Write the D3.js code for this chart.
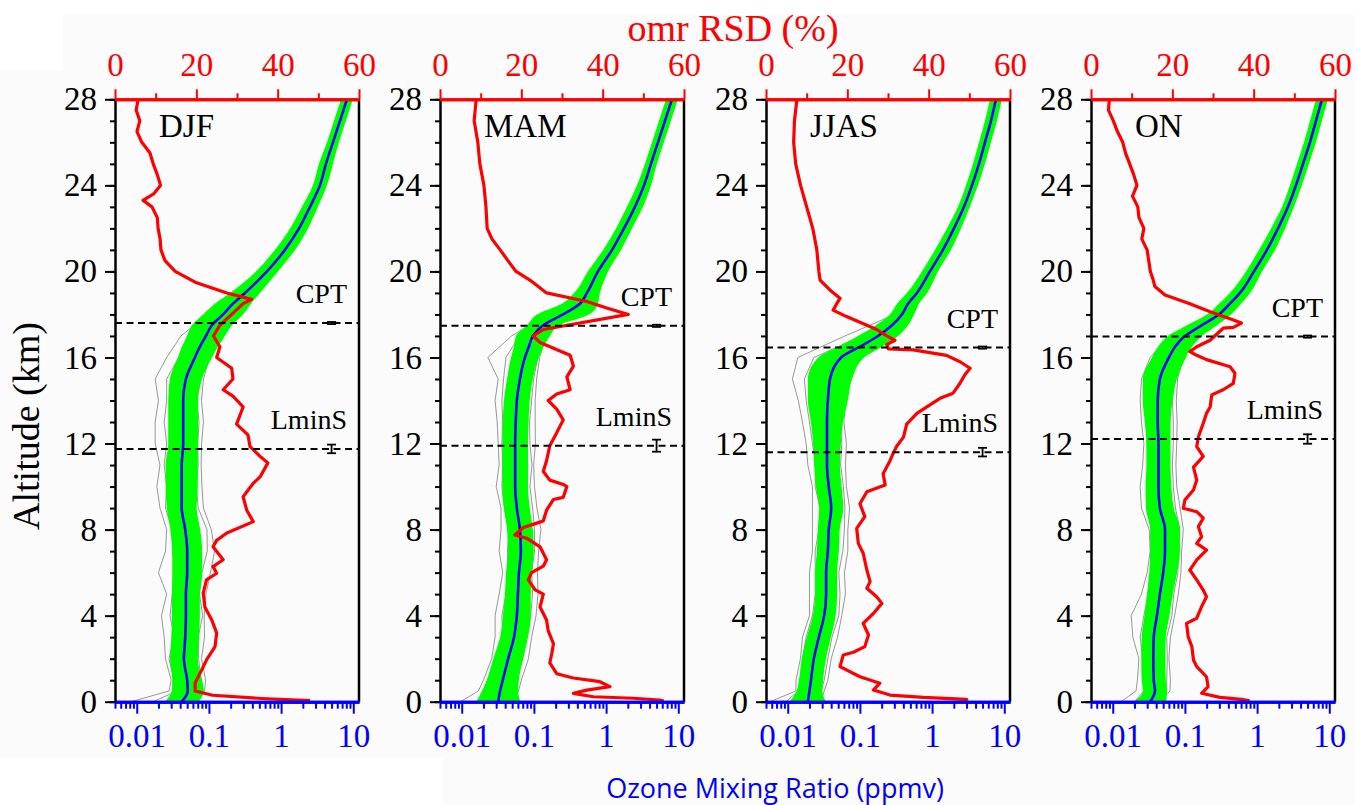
<!DOCTYPE html>
<html>
<head>
<meta charset="utf-8">
<script src="https://cdn.jsdelivr.net/npm/d3@7"></script>
<style>
	body { margin: 0; background: #fff; }
</style>
</head>
<body>
<div class="chart"></div>
<script>
// ---- data ----
var seasons = ['DJF', 'MAM', 'JJAS', 'ON'];

var altTicks = [0, 4, 8, 12, 16, 20, 24, 28];
var rsdTicks = [0, 20, 40, 60];
var ozoneTicks = [0.01, 0.1, 1, 10];

// altitude grid (km) for mean profile and green band
var altGrid = [0,0.5,1,2,3,4,5,6,7,8,9,10,11,12,13,14,15,16,16.5,17,17.5,18,18.5,19,20,21,22,23,24,25,26,27,28];

// mean ozone (ppmv)
var meanDJF = [0.042,0.051,0.050,0.045,0.047,0.048,0.048,0.050,0.050,0.047,0.042,0.042,0.042,0.044,0.044,0.044,0.048,0.064,0.075,0.091,0.110,0.157,0.215,0.316,0.637,1.13,1.77,2.51,3.45,4.18,5.23,6.54,8.17];
var meanMAM = [0.032,0.034,0.037,0.044,0.053,0.058,0.060,0.062,0.066,0.064,0.058,0.055,0.055,0.055,0.056,0.058,0.064,0.075,0.085,0.097,0.134,0.253,0.434,0.543,0.772,1.21,1.77,2.51,3.35,4.18,5.23,6.54,8.17];
var meanJJAS = [0.019,0.020,0.021,0.023,0.027,0.032,0.034,0.034,0.036,0.037,0.040,0.037,0.035,0.035,0.035,0.036,0.0385,0.055,0.100,0.178,0.278,0.382,0.463,0.617,0.934,1.41,2.01,2.76,3.57,4.46,5.40,6.54,7.66];
var meanON = [0.033,0.0385,0.037,0.0365,0.037,0.041,0.045,0.050,0.053,0.053,0.045,0.043,0.043,0.043,0.042,0.042,0.045,0.060,0.073,0.100,0.172,0.296,0.421,0.579,0.905,1.37,1.95,2.68,3.45,4.32,5.40,6.54,7.92];

// spread of the green band (multiplicative, band = mean / f .. mean * f)
var bandDJF = [1.72,1.67,1.61,1.56,1.56,1.56,1.56,1.61,1.61,1.61,1.61,1.67,1.67,1.61,1.61,1.61,1.67,1.72,1.78,1.83,1.89,1.89,1.78,1.61,1.42,1.38,1.33,1.29,1.25,1.25,1.21,1.21,1.21];
var bandMAM = [2.02,1.78,1.67,1.61,1.56,1.56,1.51,1.51,1.51,1.51,1.51,1.51,1.51,1.51,1.51,1.51,1.51,1.56,1.61,1.72,1.67,2.29,1.78,1.51,1.38,1.33,1.29,1.29,1.25,1.21,1.21,1.21,1.21];
var bandJJAS = [1.78,1.51,1.47,1.47,1.47,1.44,1.42,1.42,1.42,1.42,1.47,1.51,1.51,1.56,1.67,1.89,2.02,2.08,2.02,1.89,1.67,1.47,1.42,1.38,1.29,1.29,1.25,1.21,1.21,1.21,1.21,1.21,1.21];
var bandON = [1.67,1.47,1.47,1.47,1.47,1.49,1.51,1.56,1.61,1.61,1.56,1.51,1.47,1.47,1.51,1.61,1.72,1.72,1.72,1.72,1.61,1.47,1.42,1.38,1.29,1.29,1.25,1.21,1.21,1.21,1.21,1.21,1.21];

// a few individual profiles (grey)
var grayAlt = [0,0.5,1,2,3,4,5,6,7,8,9,10,11,12,13,14,15,16,17,18,19,20,22,24,26,28];
var grayDJF = [
	[0.0084,0.028,0.030,0.025,0.024,0.022,0.026,0.020,0.025,0.026,0.021,0.019,0.021,0.018,0.018,0.020,0.018,0.026,0.041,0.094,0.237,0.54,1.59,3.1,4.8,7.5],
	[0.017,0.036,0.033,0.028,0.033,0.029,0.031,0.035,0.031,0.031,0.025,0.026,0.024,0.026,0.024,0.026,0.026,0.038,0.064,0.126,0.27,0.59,1.68,3.3,5.0,7.8],
	[0.055,0.077,0.078,0.072,0.071,0.082,0.074,0.080,0.095,0.094,0.071,0.067,0.071,0.070,0.073,0.068,0.077,0.096,0.127,0.204,0.38,0.71,1.91,3.66,5.5,8.5],
	[0.063,0.087,0.090,0.079,0.087,0.086,0.091,0.105,0.120,0.108,0.084,0.080,0.078,0.079,0.084,0.079,0.084,0.102,0.132,0.196,0.363,0.73,1.95,3.73,5.54,8.6]
];
var grayMAM = [
	[0.0096,0.017,0.020,0.026,0.029,0.029,0.033,0.037,0.033,0.035,0.035,0.030,0.033,0.032,0.031,0.029,0.032,0.023,0.049,0.152,0.434,0.68,1.63,3.12,4.92,7.7],
	[0.016,0.022,0.026,0.030,0.037,0.036,0.041,0.043,0.043,0.045,0.039,0.036,0.037,0.036,0.037,0.036,0.038,0.041,0.063,0.190,0.489,0.72,1.68,3.22,5.02,7.9],
	[0.045,0.051,0.057,0.070,0.080,0.090,0.096,0.093,0.102,0.102,0.096,0.088,0.094,0.088,0.087,0.093,0.099,0.113,0.136,0.291,0.608,0.85,1.89,3.52,5.44,8.5],
	[0.051,0.061,0.067,0.084,0.093,0.107,0.114,0.112,0.116,0.125,0.110,0.102,0.099,0.105,0.104,0.104,0.109,0.120,0.146,0.329,0.64,0.88,1.93,3.58,5.54,8.6]
];
var grayJJAS = [
	[0.0057,0.013,0.013,0.015,0.016,0.020,0.020,0.020,0.022,0.022,0.022,0.022,0.019,0.018,0.016,0.014,0.0116,0.0138,0.062,0.306,0.524,0.84,1.87,3.39,5.13,7.35],
	[0.0095,0.014,0.015,0.016,0.018,0.022,0.024,0.024,0.024,0.027,0.028,0.024,0.0245,0.022,0.020,0.018,0.017,0.023,0.107,0.325,0.555,0.86,1.91,3.43,5.24,7.43],
	[0.025,0.029,0.032,0.036,0.041,0.051,0.053,0.051,0.058,0.061,0.062,0.059,0.054,0.056,0.053,0.056,0.062,0.094,0.231,0.44,0.68,1.01,2.13,3.75,5.62,7.97],
	[0.029,0.032,0.036,0.040,0.049,0.056,0.063,0.061,0.068,0.068,0.072,0.065,0.063,0.065,0.060,0.063,0.069,0.105,0.249,0.458,0.70,1.03,2.17,3.78,5.67,8.04]
];
var grayON = [
	[0.013,0.021,0.022,0.023,0.019,0.018,0.025,0.030,0.033,0.032,0.025,0.024,0.026,0.027,0.025,0.024,0.025,0.033,0.060,0.222,0.492,0.81,1.81,3.28,5.13,7.6],
	[0.020,0.027,0.027,0.026,0.024,0.027,0.031,0.035,0.038,0.036,0.031,0.030,0.031,0.030,0.029,0.027,0.029,0.040,0.072,0.243,0.521,0.84,1.85,3.31,5.24,7.7],
	[0.043,0.056,0.056,0.057,0.056,0.066,0.070,0.080,0.082,0.085,0.074,0.069,0.067,0.069,0.069,0.067,0.070,0.090,0.135,0.340,0.637,0.98,2.07,3.62,5.62,8.24],
	[0.046,0.062,0.063,0.060,0.063,0.072,0.081,0.088,0.090,0.095,0.086,0.077,0.075,0.077,0.078,0.076,0.079,0.096,0.140,0.355,0.660,1.00,2.11,3.66,5.67,8.32]
];

// omr RSD (%) profiles, altitude (km) from top to bottom
var rsdAltDJF = [28,27.5,27,26.5,26,25.5,25,24.5,24,23.6,23.3,23,22.5,22,21.5,21,20.5,20,19.5,19,18.7,18.5,18,17.5,17,16.5,16,15.5,15,14.5,14.2,13.7,12.9,12.4,11.86,11.4,11.1,10.46,10.15,9.53,8.9,8.37,7.84,7.5,7.2,6.6,6.28,5.97,5.66,5.05,4.4,3.8,3.19,2.56,1.94,1.47,0.87,0.5,0.3,0.15,0.05];
var rsdDJF = [5.7,5.2,6.1,5.4,6.6,8.6,9.4,10.4,11.2,9.5,6.9,9.1,10.4,10.6,11.1,11.3,12.3,14.8,19.7,27.5,33.6,31.5,28.7,25.8,24.2,25.8,25,28.7,29,26.6,29,31.5,29.9,32.7,33.2,35.7,37.6,35.7,34,31.5,32.4,34,27.5,25,24.1,26.6,24.1,25,22.5,21.7,22.1,23.8,25,24.6,22.5,21.3,19.7,19.7,24,36,48];
var rsdAltMAM = [28,27,26,25,24,23,22,21.5,21,20.5,20,19.6,19.0,18.6,18.3,18.0,17.3,17.0,16.7,16.3,16.1,15.6,15.1,14.5,14.3,14.0,13.6,13.1,12.5,11.9,11.2,10.7,10.3,10.1,10.0,9.5,9.4,8.9,8.4,8.3,8.1,7.75,7.6,7.2,6.6,6.3,6.0,5.66,5.2,5.0,4.4,3.8,3.3,2.7,2.25,1.8,1.3,1.1,0.93,0.7,0.54,0.39,0.23,0.16,0.08,0.03];
var rsdMAM = [8.9,8.4,9.3,9.8,10.8,11.3,11.6,12.8,14.8,16.7,18.7,22.1,26.2,36.1,41,46.3,25.4,22.9,24.6,29.5,32,32.8,31.2,32,28.7,26.6,28.7,30.3,28.7,27,26.2,25.4,27,30.3,31.2,30.3,27.9,26.2,25.4,23.8,20.5,18.4,21.3,24.6,26.2,25.4,22.5,21.7,23.4,25.4,24.6,26.2,26.6,27.9,27.5,27,28.7,32.8,39.3,41.8,36.1,32.8,37.7,47.5,54,55];
var rsdAltJJAS = [28,27,26,25,24,23,22,21,20,19.6,19.14,18.75,18.5,18.2,17.9,17.5,17.3,17.0,16.8,16.6,16.4,16.35,16.1,15.8,15.5,15.2,14.8,14.34,14.1,13.8,13.4,12.9,12.3,11.86,11.55,11.2,10.6,10.07,9.76,9.2,8.6,8.06,7.36,6.9,6.12,5.58,5.27,4.88,4.57,4.1,3.64,3.1,2.56,2.3,2.17,1.63,1.16,0.86,0.54,0.31,0.2,0.11,0.04];
var rsdJJAS = [7.6,7.0,6.8,7.3,8.5,10,11.5,12.5,13,13.3,15.7,18.2,17.4,16.5,19.8,24.8,27.2,29.7,31.7,29.7,30.1,36.2,44.4,47.7,50.2,48.9,47.7,46,42.8,40.3,37.1,34.6,33.8,32.1,31.3,30.5,28.8,29.3,24.8,23.1,24.3,22.3,22.7,23.9,24.8,25.6,24.8,27.2,28.5,26.4,23.9,25.2,24.3,21.5,19,18.2,23.1,28,26.4,30.5,38.7,49.3,49.5];
var rsdAltON = [28,27.5,27,26.5,26,25.5,25,24.5,24,23.5,23,22.5,22,21.5,21,20.5,20,19.6,19.3,18.9,18.5,18.13,17.8,17.6,17.4,17.36,16.8,16.5,16.27,16.1,15.9,15.57,15.27,14.8,14.5,14.26,13.7,13.4,12.94,12.3,11.86,11.4,10.9,10.3,9.84,9.38,8.99,8.83,8.53,8.14,7.67,7.36,7.05,6.59,6.12,5.66,5.19,4.88,4.42,3.88,3.64,3.02,2.56,1.94,1.63,1.16,0.7,0.39,0.2,0.11,0.04];
var rsdON = [4.5,4.3,5.5,6.5,7.8,8.5,9.5,10.5,11.3,10.2,11.5,11.8,13,12.5,13.8,14.2,14.6,15.3,15.7,18.2,24.3,29.3,34.2,37,35,32.5,29.3,26,24.3,26,28.4,34.2,35.4,35,32.5,29.7,29.3,28.4,27.6,26.4,26,27.6,25.2,26,25.2,23.1,22.7,26,27.6,26.4,27.2,26,28.4,26,24.3,26,27.6,28.4,27.2,26,23.5,23.9,24.8,25.2,26,28.4,28.8,27.2,31.7,37,39];

// cold point tropopause and lapse-rate minimum stability levels (km) with spread
var cptAlt = [17.6, 17.47, 16.46, 16.97];
var cptErr = [0.05, 0.05, 0.05, 0.05];
var lminAlt = [11.75, 11.9, 11.6, 12.21];
var lminErr = [0.2, 0.28, 0.2, 0.22];
var markerOzone = 5; // x position of the error bars (ppmv)

// ---- layout ----
var W = 1355, H = 805;
var panelLeft = [115, 440, 766, 1091];
var panelW = 244;
var plotTop = 99.3, plotBottom = 701.7;
var serif = '"Liberation Serif", "Times New Roman", serif';

var svg = d3.select('.chart')
	.append('svg')
	.attr('width', W)
	.attr('height', H)
	.style('display', 'block');

svg.append('rect').attr('width', W).attr('height', H).attr('fill', '#ffffff');
svg.append('path').attr('d', 'M63,15H1355V805H443V758H0V70H63Z').attr('fill', '#fbfbfb');

var panels = [
	{name: seasons[0], mean: meanDJF, band: bandDJF, gray: grayDJF, rsdAlt: rsdAltDJF, rsd: rsdDJF},
	{name: seasons[1], mean: meanMAM, band: bandMAM, gray: grayMAM, rsdAlt: rsdAltMAM, rsd: rsdMAM},
	{name: seasons[2], mean: meanJJAS, band: bandJJAS, gray: grayJJAS, rsdAlt: rsdAltJJAS, rsd: rsdJJAS},
	{name: seasons[3], mean: meanON, band: bandON, gray: grayON, rsdAlt: rsdAltON, rsd: rsdON}
];

function minorLog() {
	var out = [];
	[0.001, 0.01, 0.1, 1].forEach(function (dec) {
		for (var m = 2; m <= 9; m++) {
			var v = +(dec * m).toPrecision(3);
			if (v >= 0.005 && v <= 12) out.push(v);
		}
	});
	return out;
}

function styleAxis(sel, color, lineW) {
	sel.attr('font-family', null).attr('font-size', null);
	sel.selectAll('.tick text')
		.attr('fill', color)
		.style('font-family', serif)
		.style('font-size', '33px');
	sel.select('.domain').attr('stroke', color).attr('stroke-width', lineW);
	sel.selectAll('.tick line').attr('stroke', color).attr('stroke-width', 2);
}

panels.forEach(function (p, i) {
	var L = panelLeft[i];
	var g = svg.append('g').attr('transform', 'translate(' + L + ',0)');

	var x = d3.scaleLog().domain([0.005, 12]).range([0, panelW]);
	var xr = d3.scaleLinear().domain([0, 60]).range([0, panelW]);
	var y = d3.scaleLinear().domain([0, 28]).range([plotBottom, plotTop]);

	g.append('clipPath').attr('id', 'clip' + i)
		.append('rect')
		.attr('x', 0).attr('y', plotTop)
		.attr('width', panelW).attr('height', plotBottom - plotTop);

	var plot = g.append('g').attr('clip-path', 'url(#clip' + i + ')');

	var prof = d3.line()
		.x(function (d) { return x(d[1]); })
		.y(function (d) { return y(d[0]); });

	// individual profiles
	p.gray.forEach(function (gp) {
		plot.append('path')
			.datum(grayAlt.map(function (a, k) { return [a, gp[k]]; }))
			.attr('d', prof)
			.attr('fill', 'none')
			.attr('stroke', '#7d7d7d')
			.attr('stroke-width', 0.8);
	});

	// green band
	var band = altGrid.map(function (a, k) {
		return {alt: a, lo: p.mean[k] / p.band[k], hi: p.mean[k] * p.band[k]};
	});
	plot.append('path')
		.datum(band)
		.attr('d', d3.area()
			.y(function (d) { return y(d.alt); })
			.x0(function (d) { return x(d.lo); })
			.x1(function (d) { return x(d.hi); })
			.curve(d3.curveMonotoneY))
		.attr('fill', '#00ff00');

	// mean
	plot.append('path')
		.datum(altGrid.map(function (a, k) { return [a, p.mean[k]]; }))
		.attr('d', prof.curve(d3.curveMonotoneY))
		.attr('fill', 'none')
		.attr('stroke', '#0000ff')
		.attr('stroke-width', 2.6);

	// RSD
	plot.append('path')
		.datum(p.rsdAlt.map(function (a, k) { return [a, p.rsd[k]]; }))
		.attr('d', d3.line()
			.x(function (d) { return xr(d[1]); })
			.y(function (d) { return y(d[0]); }))
		.attr('fill', 'none')
		.attr('stroke', '#ff0000')
		.attr('stroke-width', 3.2)
		.attr('stroke-linejoin', 'round');

	// CPT / LminS levels
	[[cptAlt[i], cptErr[i], 'CPT'], [lminAlt[i], lminErr[i], 'LminS']].forEach(function (lv) {
		var yy = y(lv[0]);
		g.append('line')
			.attr('x1', 0).attr('x2', panelW)
			.attr('y1', yy).attr('y2', yy)
			.attr('stroke', '#000')
			.attr('stroke-width', 2)
			.attr('stroke-dasharray', '7,4.5');
		var xm = x(markerOzone);
		var eb = g.append('g').attr('stroke', '#000').attr('stroke-width', 1.8);
		eb.append('line').attr('x1', xm).attr('x2', xm).attr('y1', y(lv[0] - lv[1])).attr('y2', y(lv[0] + lv[1]));
		eb.append('line').attr('x1', xm - 4.5).attr('x2', xm + 4.5).attr('y1', y(lv[0] - lv[1])).attr('y2', y(lv[0] - lv[1]));
		eb.append('line').attr('x1', xm - 4.5).attr('x2', xm + 4.5).attr('y1', y(lv[0] + lv[1])).attr('y2', y(lv[0] + lv[1]));
		g.append('text')
			.attr('x', panelW - 12)
			.attr('y', yy - 20)
			.attr('text-anchor', 'end')
			.style('font-family', serif)
			.style('font-size', '28px')
			.text(lv[2]);
	});

	// season name
	g.append('text')
		.attr('x', 44)
		.attr('y', 137)
		.style('font-family', serif)
		.style('font-size', '33px')
		.text(p.name);

	// left axis
	g.append('g')
		.call(d3.axisLeft(y).tickValues(d3.range(0, 29)).tickSize(5).tickSizeOuter(0).tickFormat(''))
		.call(styleAxis, '#000', 2.5)
		.select('.domain').remove();
	g.append('g')
		.call(d3.axisLeft(y).tickValues(altTicks).tickSize(10).tickSizeOuter(0).tickPadding(8))
		.call(styleAxis, '#000', 2.5);

	// right border
	g.append('line')
		.attr('x1', panelW).attr('x2', panelW)
		.attr('y1', plotTop).attr('y2', plotBottom)
		.attr('stroke', '#000').attr('stroke-width', 2.5);

	// bottom log axis (ozone)
	g.append('g')
		.attr('transform', 'translate(0,' + plotBottom + ')')
		.call(d3.axisBottom(x).tickValues(minorLog()).tickSize(7).tickSizeOuter(0).tickFormat(''))
		.call(styleAxis, '#0000ff', 3);
	g.append('g')
		.attr('transform', 'translate(0,' + plotBottom + ')')
		.call(d3.axisBottom(x).tickValues(ozoneTicks).tickSize(12).tickSizeOuter(0).tickPadding(10)
			.tickFormat(function (d) { return String(d); }))
		.call(styleAxis, '#0000ff', 3);

	// top linear axis (RSD)
	g.append('g')
		.attr('transform', 'translate(0,' + plotTop + ')')
		.call(d3.axisTop(xr).tickValues([10, 30, 50]).tickSize(6).tickSizeOuter(0).tickFormat(''))
		.call(styleAxis, '#ff0000', 3);
	g.append('g')
		.attr('transform', 'translate(0,' + plotTop + ')')
		.call(d3.axisTop(xr).tickValues(rsdTicks).tickSize(10).tickSizeOuter(0).tickPadding(13))
		.call(styleAxis, '#ff0000', 3);
});

// titles
svg.append('text')
	.attr('x', 733).attr('y', 41)
	.attr('text-anchor', 'middle')
	.style('font-family', serif)
	.style('font-size', '38px')
	.attr('fill', '#ff0000')
	.text('omr RSD (%)');

svg.append('text')
	.attr('transform', 'translate(39,426) rotate(-90)')
	.attr('text-anchor', 'middle')
	.style('font-family', serif)
	.style('font-size', '38px')
	.attr('fill', '#000')
	.text('Altitude (km)');

svg.append('text')
	.attr('x', 775).attr('y', 798)
	.attr('text-anchor', 'middle')
	.style('font-family', '"Open Sans", Lato, sans-serif')
	.style('font-size', '27px')
	.attr('fill', '#0000ff')
	.text('Ozone Mixing Ratio (ppmv)');
</script>
</body>
</html>
